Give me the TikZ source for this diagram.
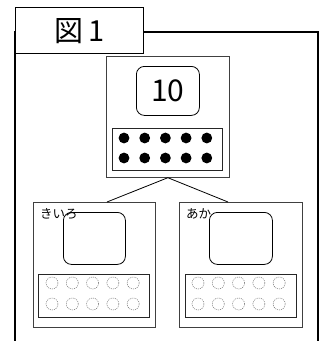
\documentclass[tikz,border=0pt]{standalone}
\usepackage{fontspec}
\setmainfont{Noto Sans CJK JP}
\begin{document}
\begin{tikzpicture}[x=1pt,y=-1pt,
  frame/.style={draw=black,line width=1.3pt},
  card/.style={draw=black!75,line width=0.7pt,fill=white},
  numbox/.style={draw=black,line width=0.8pt,rounded corners=8pt},
  dotrect/.style={draw=black!85,line width=0.9pt},
  fulldot/.style={fill=black},
  emptydot/.style={draw=black!55,line width=0.5pt,dash pattern=on 1pt off 1pt},
  conn/.style={draw=black,line width=0.8pt}]
\useasboundingbox (0,0) rectangle (324,341);
% outer frame
\draw[frame] (15,345) -- (15,32) -- (318,32) -- (318,345);
\node[frame,fill=white,minimum width=128pt,minimum height=46pt,inner sep=0pt,anchor=north west,font=\fontsize{29}{29}\selectfont] (title) at (15,7) {図\,1};
% top card
\node[card,minimum width=123pt,minimum height=121pt,inner sep=0pt,anchor=north west] (top) at (106,56) {};
\node[numbox,minimum width=63pt,minimum height=49pt,inner sep=0pt,anchor=north west,font=\fontsize{30}{30}\selectfont] (ten) at (136,66) {10};
\node[dotrect,minimum width=110pt,minimum height=42pt,inner sep=0pt,anchor=north west] (topdots) at (112,128) {};
\foreach \i in {0,...,4}{
  \fill[fulldot] (124+20.7*\i,138) circle (5.4pt);
  \fill[fulldot] (124+20.7*\i,158) circle (5.4pt);
}
% left card
\node[card,minimum width=122pt,minimum height=125pt,inner sep=0pt,anchor=north west] (left) at (33,202) {};
\node[anchor=west,inner sep=0pt,font=\fontsize{12.5}{12.5}\selectfont] (llab) at (40,214) {きいろ};
\node[numbox,minimum width=62pt,minimum height=52pt,inner sep=0pt,anchor=north west] (lbox) at (63,212) {};
\node[dotrect,minimum width=111pt,minimum height=43pt,inner sep=0pt,anchor=north west] (ldots) at (38,274) {};
\foreach \i in {0,...,4}{
  \draw[emptydot] (52+20.3*\i,283) circle (6pt);
  \draw[emptydot] (52+20.3*\i,304) circle (6pt);
}
% right card
\node[card,minimum width=123pt,minimum height=125pt,inner sep=0pt,anchor=north west] (right) at (179,202) {};
\node[anchor=west,inner sep=0pt,font=\fontsize{12.5}{12.5}\selectfont] (rlab) at (186,214) {あか};
\node[numbox,minimum width=63pt,minimum height=52pt,inner sep=0pt,anchor=north west] (rbox) at (209,212) {};
\node[dotrect,minimum width=111pt,minimum height=43pt,inner sep=0pt,anchor=north west] (rdots) at (185,274) {};
\foreach \i in {0,...,4}{
  \draw[emptydot] (198+20.3*\i,283) circle (6pt);
  \draw[emptydot] (198+20.3*\i,304) circle (6pt);
}
% connectors
\coordinate (ltop) at (107,202);
\coordinate (rtop) at (228,202);
\draw[conn] (top.south) -- (ltop);
\draw[conn] (top.south) -- (rtop);
\end{tikzpicture}
\end{document}
